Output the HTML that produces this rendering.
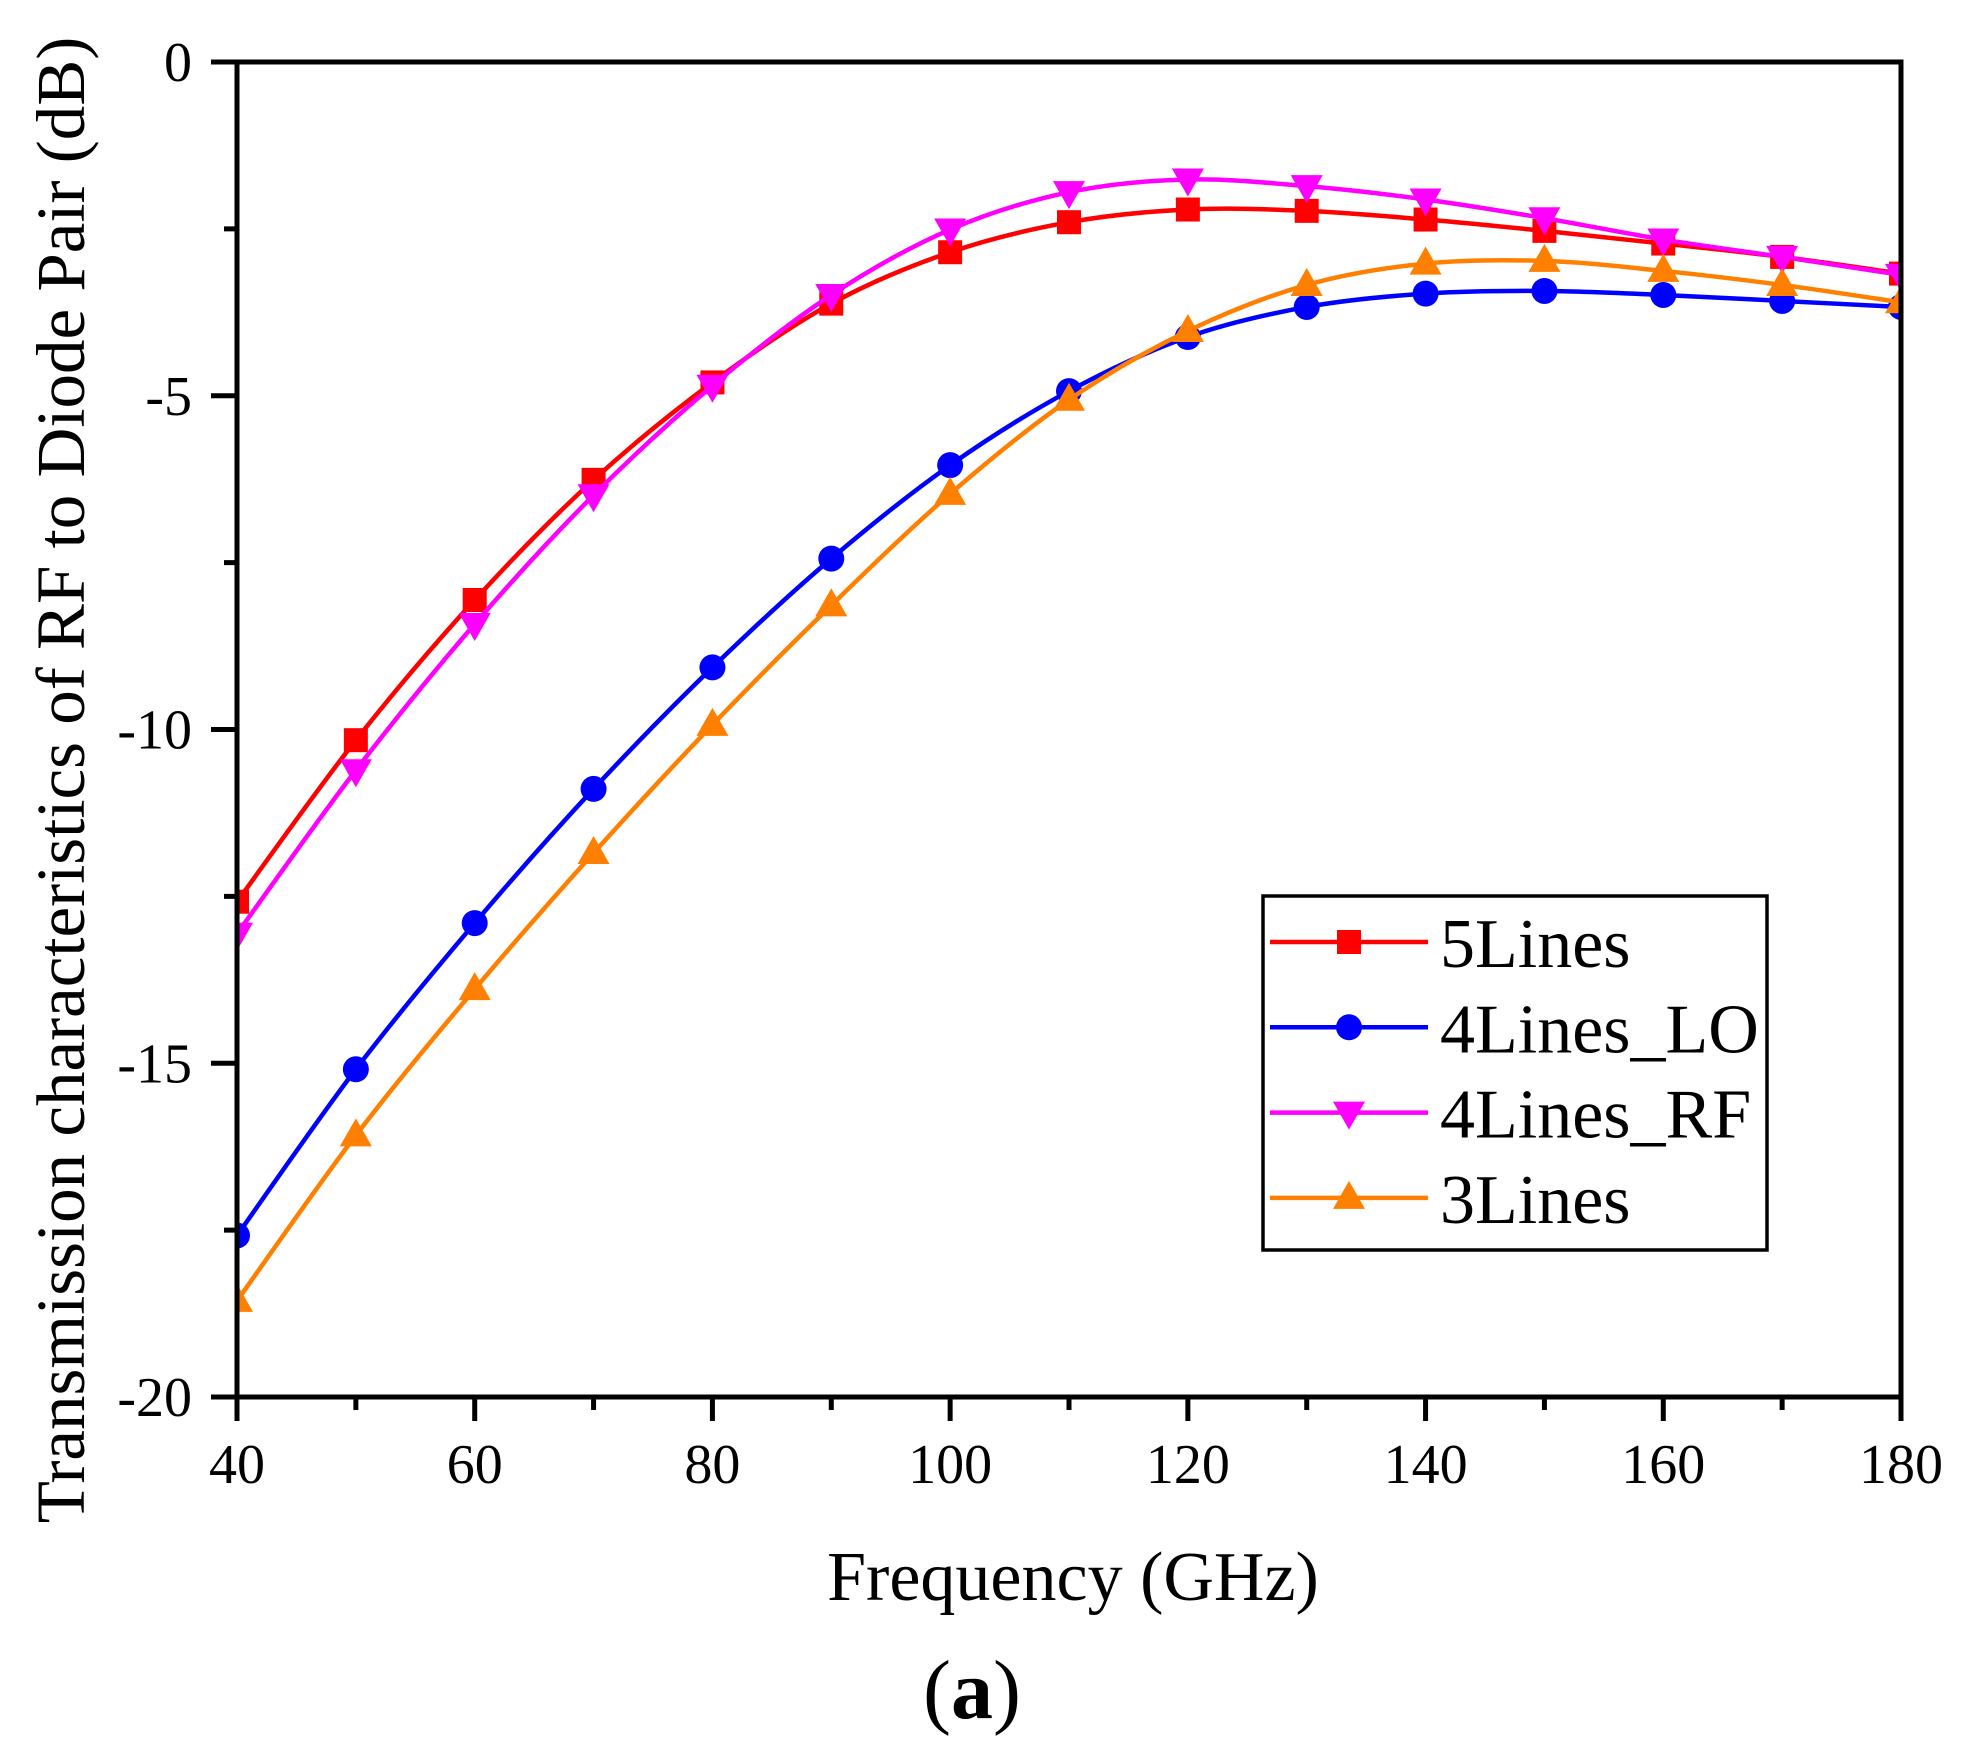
<!DOCTYPE html>
<html><head><meta charset="utf-8"><style>
body{margin:0;background:#fff}
svg{display:block}
text{font-family:"Liberation Serif",serif;fill:#000}
</style></head><body>
<svg id="s" width="1964" height="1751" viewBox="0 0 1964 1751" xmlns="http://www.w3.org/2000/svg"></svg>
<script>
const s=document.getElementById('s');
const X=f=>237+(f-40)*(1664/140), Y=v=>62-v*(1335/20);
let h='';
const data={
r:[-12.58,-10.16,-8.06,-6.26,-4.80,-3.62,-2.85,-2.40,-2.21,-2.23,-2.36,-2.53,-2.72,-2.92,-3.17],
b:[-17.58,-15.09,-12.90,-10.89,-9.07,-7.44,-6.04,-4.93,-4.12,-3.67,-3.47,-3.43,-3.49,-3.58,-3.67],
m:[-13.06,-10.61,-8.42,-6.49,-4.85,-3.49,-2.51,-1.95,-1.76,-1.86,-2.06,-2.34,-2.66,-2.92,-3.19],
o:[-18.56,-16.08,-13.89,-11.85,-9.93,-8.14,-6.47,-5.06,-4.03,-3.34,-3.02,-2.98,-3.13,-3.34,-3.60]};
const col={r:'#ff0000',b:'#0000ff',m:'#ff00ff',o:'#ff8000'};
function mk(k,x,y){const c=col[k];
 if(k=='r')return `<rect x="${x-12}" y="${y-12}" width="24" height="24" fill="${c}"/>`;
 if(k=='b')return `<circle cx="${x}" cy="${y}" r="13" fill="${c}"/>`;
 if(k=='m')return `<polygon points="${x-16},${y-11} ${x+16},${y-11} ${x},${y+17}" fill="${c}"/>`;
 return `<polygon points="${x-16},${y+11} ${x+16},${y+11} ${x},${y-17}" fill="${c}"/>`;}
h+='<defs><clipPath id="c"><rect x="237" y="62" width="1664" height="1335"/></clipPath></defs>';
for(const k of ['r','b','m','o']){
 const p=data[k].map((v,i)=>[X(40+10*i),Y(v)]);
 let d=`M${p[0][0]},${p[0][1]}`;
 for(let i=0;i<p.length-1;i++){const p0=p[Math.max(0,i-1)],p1=p[i],p2=p[i+1],p3=p[Math.min(p.length-1,i+2)];
  d+=` C${p1[0]+(p2[0]-p0[0])/6},${p1[1]+(p2[1]-p0[1])/6} ${p2[0]-(p3[0]-p1[0])/6},${p2[1]-(p3[1]-p1[1])/6} ${p2[0]},${p2[1]}`;}
 h+=`<path d="${d}" fill="none" stroke="${col[k]}" stroke-width="4.5"/>`;
 h+='<g clip-path="url(#c)">'+p.map(q=>mk(k,q[0],q[1])).join('')+'</g>';
}
h+='<rect x="237" y="62" width="1664" height="1335" fill="none" stroke="#000" stroke-width="5"/>';
for(let f=40;f<=180;f+=10){const x=X(f),maj=(f%20==0);
 h+=`<line x1="${x}" y1="1397" x2="${x}" y2="${1397+(maj?24:13)}" stroke="#000" stroke-width="5"/>`;
 if(maj)h+=`<text x="${x}" y="1483" font-size="56" text-anchor="middle">${f}</text>`;}
for(let v=0;v>=-20;v-=2.5){const y=Y(v),maj=(v%5==0);
 h+=`<line x1="237" y1="${y}" x2="${237-(maj?26:13)}" y2="${y}" stroke="#000" stroke-width="5"/>`;
 if(maj)h+=`<text x="192" y="${y+19}" font-size="56" text-anchor="end">${v}</text>`;}
h+=`<text x="1073" y="1600" font-size="70" text-anchor="middle">Frequency (GHz)</text>`;
h+=`<text transform="translate(84,780) rotate(-90)" font-size="69" text-anchor="middle">Transmission characteristics of RF to Diode Pair (dB)</text>`;
h+=`<text x="972" y="1718" font-size="84" text-anchor="middle"><tspan>(</tspan><tspan font-weight="bold">a</tspan><tspan>)</tspan></text>`;
h+='<rect x="1263" y="896" width="504" height="354" fill="#fff" stroke="#000" stroke-width="3.5"/>';
const names={r:'5Lines',b:'4Lines_LO',m:'4Lines_RF',o:'3Lines'};
['r','b','m','o'].forEach((k,i)=>{const y=942+i*85.3;
 h+=`<line x1="1270" y1="${y}" x2="1428" y2="${y}" stroke="${col[k]}" stroke-width="4.5"/>`+mk(k,1349,y);
 h+=`<text x="1440" y="${y+25}" font-size="70">${names[k]}</text>`;});
s.innerHTML=h;
</script>
</body></html>
